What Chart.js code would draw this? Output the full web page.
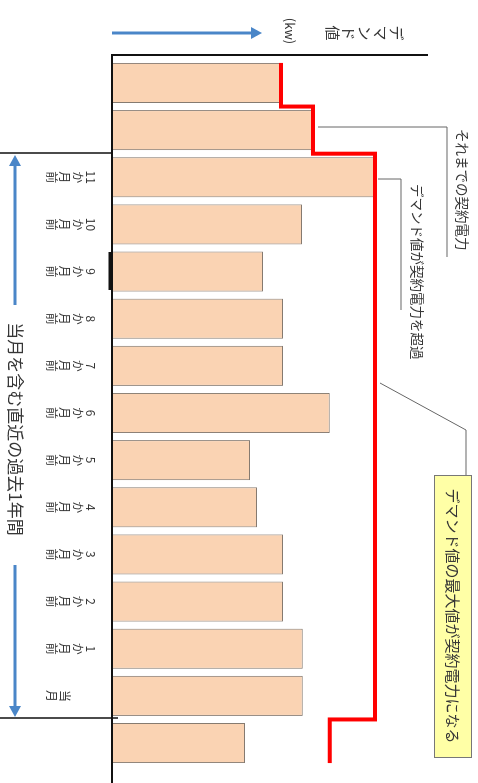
<!DOCTYPE html>
<html>
<head>
<meta charset="utf-8">
<script src="https://cdn.jsdelivr.net/npm/chart.js@4"></script>
<style>
  html, body { margin: 0; padding: 0; background: #fff; overflow: hidden; }
  /* the figure is drawn upright, then turned 90deg clockwise like the source */
  #wrap { position: absolute; left: 0; top: 0; width: 783px; height: 478px;
          transform-origin: 0 0; transform: translate(478px, 0) rotate(90deg); }
</style>
</head>
<body>
<div id="wrap"><canvas id="demandChart" width="783" height="478"></canvas></div>
<script>
// months, oldest first (the two first and the last bar have no label)
const months = ['', '', '11か月前', '10か月前', '9か月前', '8か月前', '7か月前', '6か月前',
                '5か月前', '4か月前', '3か月前', '2か月前', '1か月前', '当月', ''];
// monthly max demand (kW)
const demand = [53.5, 63.6, 83.2, 60.1, 47.8, 54.1, 54.1, 68.9, 43.7, 45.9, 54.1, 54.1, 60.4, 60.4, 42.1];
// contract power in force each month (kW)
const contract = [53.5, 63.6, 83.2, 83.2, 83.2, 83.2, 83.2, 83.2, 83.2, 83.2, 83.2, 83.2, 83.2, 83.2, 68.9];
const valueMax = 100;

const FONT = '"Noto Sans CJK JP", "Noto Sans CJK SC", sans-serif';
const TEXT = '#363636';
const BLUE = '#4a86c8';

// red step line: starts at the top edge of the first bar, steps between months
const barPct = 0.85;
const half = barPct / 2;
const contractSteps = contract.map((v, i) => ({ x: i === 0 ? -half : i - 0.5, y: v }));
contractSteps.push({ x: contract.length - 1 + half, y: contract[contract.length - 1] });

function arrow(ctx, x1, y1, x2, y2) {
  const a = Math.atan2(y2 - y1, x2 - x1);
  const hl = 11, hw = 6;
  ctx.beginPath();
  ctx.moveTo(x1, y1);
  ctx.lineTo(x2 - Math.cos(a) * hl, y2 - Math.sin(a) * hl);
  ctx.stroke();
  ctx.beginPath();
  ctx.moveTo(x2, y2);
  ctx.lineTo(x2 - Math.cos(a) * hl - Math.sin(a) * hw, y2 - Math.sin(a) * hl + Math.cos(a) * hw);
  ctx.lineTo(x2 - Math.cos(a) * hl + Math.sin(a) * hw, y2 - Math.sin(a) * hl - Math.cos(a) * hw);
  ctx.closePath();
  ctx.fill();
}

// vertical (tategaki) text, digits kept together in one cell
function tategaki(ctx, text, x, yTop, cell) {
  const parts = text.match(/\d+|./g) || [];
  ctx.textAlign = 'center';
  ctx.textBaseline = 'middle';
  parts.forEach((p, k) => ctx.fillText(p, x, yTop + cell * k + cell / 2));
  return parts.length;
}

const figurePlugin = {
  id: 'figure',
  afterDraw(chart) {
    const ctx = chart.ctx;
    const xs = chart.scales.x;
    ctx.save();

    // axes
    ctx.strokeStyle = '#111';
    ctx.lineWidth = 2;
    ctx.beginPath();
    ctx.moveTo(55, 366); ctx.lineTo(783, 366);
    ctx.moveTo(55, 367); ctx.lineTo(55, 50);
    ctx.stroke();
    // small dark mark on the axis next to 9か月前
    ctx.lineWidth = 3;
    ctx.beginPath();
    ctx.moveTo(252, 368); ctx.lineTo(290, 368);
    ctx.stroke();

    // one-year bracket dividers
    ctx.lineWidth = 1.5;
    ctx.beginPath();
    ctx.moveTo(153, 478); ctx.lineTo(153, 366);
    ctx.moveTo(718, 478); ctx.lineTo(718, 360);
    ctx.stroke();

    // month labels
    ctx.fillStyle = TEXT;
    ctx.font = '12px ' + FONT;
    const cell = 13;
    months.forEach((m, i) => {
      if (!m) return;
      const n = (m.match(/\d+|./g) || []).length;
      tategaki(ctx, m, xs.getPixelForValue(i), 433 - n * cell, cell);
    });

    // value axis title and arrow
    ctx.font = '15px ' + FONT;
    tategaki(ctx, 'デマンド値', 33, 73, 16);
    ctx.font = '13px ' + FONT;
    ctx.textAlign = 'center';
    ctx.fillText('(kw)', 31, 188);
    ctx.strokeStyle = BLUE;
    ctx.fillStyle = BLUE;
    ctx.lineWidth = 3;
    arrow(ctx, 33, 366, 33, 216);

    // one-year bracket
    arrow(ctx, 305, 463, 155, 463);
    arrow(ctx, 565, 463, 717, 463);
    ctx.fillStyle = TEXT;
    ctx.font = '17px ' + FONT;
    ctx.textAlign = 'center';
    ctx.textBaseline = 'middle';
    ctx.fillText('当月を含む直近の過去1年間', 429, 463);

    // callouts
    ctx.strokeStyle = '#666';
    ctx.lineWidth = 1;
    ctx.beginPath();
    ctx.moveTo(127, 160); ctx.lineTo(127, 31); ctx.lineTo(257, 31);
    ctx.moveTo(179, 100); ctx.lineTo(179, 77); ctx.lineTo(310, 77);
    ctx.moveTo(383, 98); ctx.lineTo(430, 12); ctx.lineTo(475, 12);
    ctx.stroke();
    ctx.font = '13.5px ' + FONT;
    ctx.textAlign = 'left';
    ctx.fillText('それまでの契約電力', 129, 16);
    ctx.fillText('デマンド値が契約電力を超過', 184, 61);

    ctx.fillStyle = '#ffffa6';
    ctx.fillRect(475, 6, 283, 38);
    ctx.strokeStyle = '#777';
    ctx.strokeRect(475.5, 6.5, 282, 37);
    ctx.fillStyle = TEXT;
    ctx.font = '15px ' + FONT;
    ctx.textAlign = 'center';
    ctx.fillText('デマンド値の最大値が契約電力になる', 616, 25);

    ctx.restore();
  }
};

new Chart(document.getElementById('demandChart'), {
  type: 'bar',
  data: {
    labels: months,
    datasets: [{
      type: 'line',
      label: '契約電力',
      data: contractSteps,
      xAxisID: 'x2',
      borderColor: '#ff0000',
      borderWidth: 4,
      stepped: 'before',
      pointRadius: 0,
      fill: false,
      borderJoinStyle: 'miter',
      order: 0
    }, {
      label: 'デマンド値',
      data: demand,
      backgroundColor: '#fad3b3',
      borderColor: '#857a70',
      borderWidth: 1,
      barPercentage: barPct,
      categoryPercentage: 1,
      grouped: false,
      order: 1
    }]
  },
  options: {
    responsive: false,
    animation: false,
    layout: { padding: { left: 59.4, right: 16.4, top: 50, bottom: 112 } },
    plugins: { legend: { display: false }, tooltip: { enabled: false } },
    scales: {
      x: { display: false, grid: { display: false } },
      x2: { type: 'linear', display: false, offset: false, min: -0.5, max: months.length - 0.5 },
      y: { display: false, min: 0, max: valueMax }
    }
  },
  plugins: [figurePlugin]
});
</script>
</body>
</html>
